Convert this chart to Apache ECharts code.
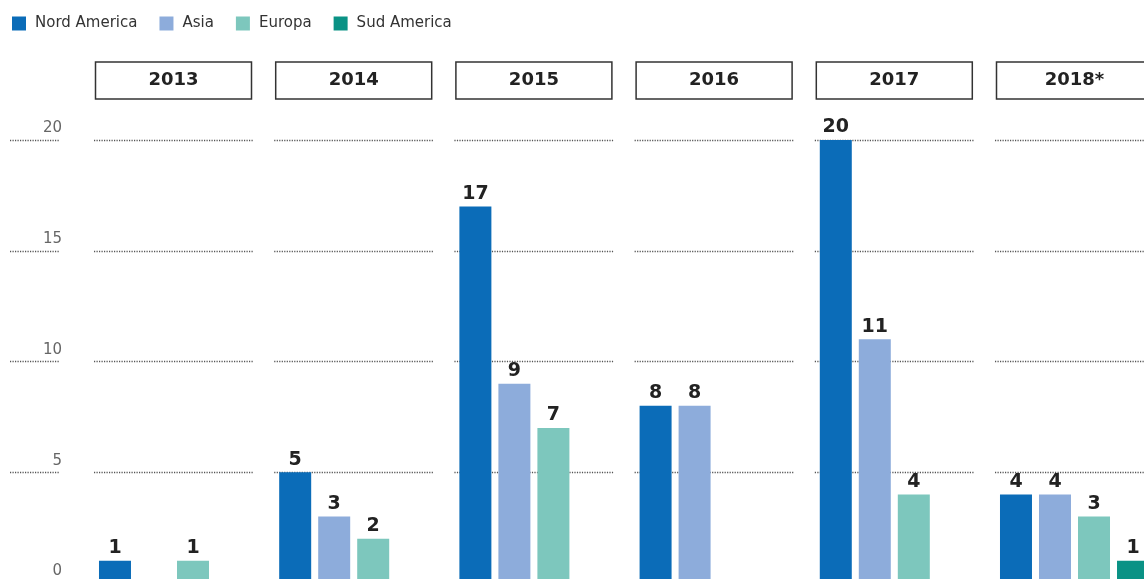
<!DOCTYPE html>
<html><head><meta charset="utf-8">
<script src="https://cdn.jsdelivr.net/npm/echarts@6/dist/echarts.min.js"></script>
<style>html,body{margin:0;padding:0;background:#fff}#c{width:1144px;height:579px}</style>
</head><body><div id="c"></div>
<script>
const years = ['2013', '2014', '2015', '2016', '2017', '2018*'];
const seriesNames = ['Nord America', 'Asia', 'Europa', 'Sud America'];
const nordAmerica = [1, 5, 17, 8, 20, 4];
const asia = [null, 3, 9, 8, 11, 4];
const europa = [1, 2, 7, null, 4, 3];
const sudAmerica = [null, null, null, null, null, 1];
const yTicks = [0, 5, 10, 15, 20];
const colors = ['#0b6cb8', '#8dacdb', '#7dc7bd', '#0a9285'];

const FONT = 'DejaVu Sans';
const allValues = [nordAmerica, asia, europa, sudAmerica];
const grids = [], xAxes = [], yAxes = [], series = [];
const dotted = { show: true, lineStyle: { color: '#555', type: [1.2, 1.3], width: 1.3 } };

// label column
grids.push({ left: 10, width: 50, top: 140, height: 443, outerBoundsMode: 'none', containLabel: false });
xAxes.push({ gridIndex: 0, type: 'value', show: false });
yAxes.push({ gridIndex: 0, type: 'value', min: yTicks[0], max: yTicks[yTicks.length - 1], interval: 5,
  position: 'right', axisLine: { show: false }, axisTick: { show: false }, splitLine: dotted,
  axisLabel: { inside: true, margin: -2, align: 'right', verticalAlign: 'bottom', padding: [0, 0, 4, 0],
    color: '#666', fontSize: 15, fontFamily: FONT } });

years.forEach((y, i) => {
  const gi = i + 1;
  grids.push({ left: 94 + i * 180.2, width: 159, top: 140, height: 443, outerBoundsMode: 'none', containLabel: false });
  xAxes.push({ gridIndex: gi, type: 'category', data: [y], position: 'top',
    axisLine: { show: false }, axisTick: { show: false },
    axisLabel: { margin: 41, color: '#222', fontSize: 18, fontWeight: 'bold', fontFamily: FONT,
      borderColor: '#333', borderWidth: 1.5, width: 156, height: 37, lineHeight: 37, align: 'center' } });
  yAxes.push({ gridIndex: gi, type: 'value', min: 0, max: 20, interval: 5,
    axisLine: { show: false }, axisTick: { show: false }, axisLabel: { show: false }, splitLine: dotted });
  seriesNames.forEach((n, s) => {
    series.push({ name: n, type: 'bar', xAxisIndex: gi, yAxisIndex: gi,
      data: [allValues[s][i]], barWidth: 32, barGap: '21.9%',
      itemStyle: { color: colors[s] },
      label: { show: true, position: 'top', distance: 3, color: '#222', fontSize: 19, fontWeight: 'bold', fontFamily: FONT },
      emphasis: { disabled: true } });
  });
});

const chart = echarts.init(document.getElementById('c'), null, { renderer: 'canvas' });
chart.setOption({
  animation: false,
  color: colors,
  legend: { data: seriesNames, left: 7, top: 11, icon: 'rect', itemWidth: 14, itemHeight: 14, itemGap: 22,
    textStyle: { color: '#333', fontSize: 15, fontFamily: FONT, padding: [0, 0, 0, 4] } },
  grid: grids, xAxis: xAxes, yAxis: yAxes, series: series
});
</script></body></html>
